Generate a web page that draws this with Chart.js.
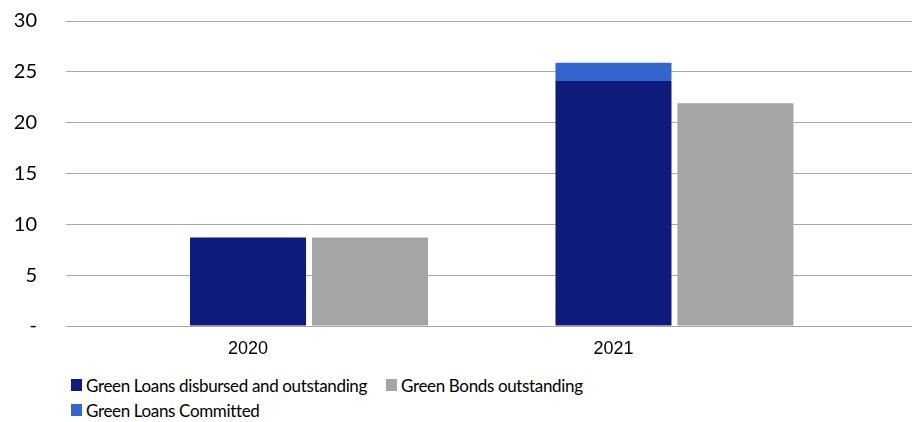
<!DOCTYPE html>
<html>
<head>
<meta charset="utf-8">
<script src="https://cdn.jsdelivr.net/npm/chart.js@4/dist/chart.umd.min.js"></script>
<style>
  body { margin: 0; background: #fff; }
  #wrap { position: relative; width: 912px; height: 422px; }
  #legend {
    position: absolute; left: 71px; top: 374px; width: 520px;
    display: flex; flex-wrap: wrap; column-gap: 19px; row-gap: 3px;
    font-family: Lato, 'Noto Sans', sans-serif;
    font-size: 17px; letter-spacing: -0.35px; color: #000;
  }
  .item { display: flex; align-items: center; height: 22px; }
  .box { width: 11px; height: 12px; margin-right: 4px; }
</style>
</head>
<body>
<div id="wrap">
  <canvas id="chart" width="912" height="364"></canvas>
  <div id="legend"></div>
</div>
<script>
const categories = ['2020', '2021'];
const loansDisbursed = [8.7, 24.1];
const loansCommitted = [0, 1.8];
const bondsOutstanding = [8.7, 21.9];
const yTicks = [0, 5, 10, 15, 20, 25, 30];

const toPoints = arr => arr.map((v, i) => ({ x: i, y: v }));

const datasets = [
  { label: 'Green Loans disbursed and outstanding', data: toPoints(loansDisbursed), backgroundColor: '#0f1b7c', stack: 'loans' },
  { label: 'Green Bonds outstanding', data: toPoints(bondsOutstanding), backgroundColor: '#a5a5a5', stack: 'bonds' },
  { label: 'Green Loans Committed', data: toPoints(loansCommitted), backgroundColor: '#3366cc', stack: 'loans' },
];

const chart = new Chart(document.getElementById('chart'), {
  type: 'bar',
  data: { datasets },
  options: {
    responsive: false,
    animation: false,
    devicePixelRatio: 1,
    layout: { padding: { left: 14, right: 0, top: 0, bottom: 2 } },
    datasets: { bar: { categoryPercentage: 0.6676, barPercentage: 0.951 } },
    plugins: { legend: { display: false }, tooltip: { enabled: false } },
    scales: {
      x: {
        type: 'linear',
        offset: false,
        min: -0.665,
        max: 1.65,
        grid: { display: false, drawTicks: false },
        border: { display: false },
        afterBuildTicks: s => { s.ticks = categories.map((c, i) => ({ value: i })); },
        // keep the axis box tight: labels sit 12px under the plot
        afterFit: s => { s.height = 36; s.paddingLeft = 0; s.paddingRight = 0; },
        ticks: {
          callback: v => categories[v],
          labelOffset: -61,
          padding: 12,
          autoSkip: false,
          maxRotation: 0,
          color: '#000',
          font: { family: 'Liberation Sans', size: 18 }
        }
      },
      y: {
        stacked: true,
        min: 0,
        max: 30,
        grid: { color: '#a6a6ae', lineWidth: 1, drawTicks: false },
        border: { display: false },
        afterBuildTicks: s => { s.ticks = yTicks.map(v => ({ value: v })); },
        afterFit: s => { s.width = 52; s.paddingTop = 21; s.paddingBottom = 0; },
        ticks: {
          callback: v => v === 0 ? '-' : v,
          padding: 29,
          color: '#000',
          font: { family: 'Lato', size: 20 }
        }
      }
    }
  }
});

// html legend, wraps like the original
const legend = document.getElementById('legend');
datasets.forEach(d => {
  const item = document.createElement('div');
  item.className = 'item';
  const box = document.createElement('span');
  box.className = 'box';
  box.style.background = d.backgroundColor;
  const txt = document.createElement('span');
  txt.textContent = d.label;
  item.appendChild(box);
  item.appendChild(txt);
  legend.appendChild(item);
});
</script>
</body>
</html>
